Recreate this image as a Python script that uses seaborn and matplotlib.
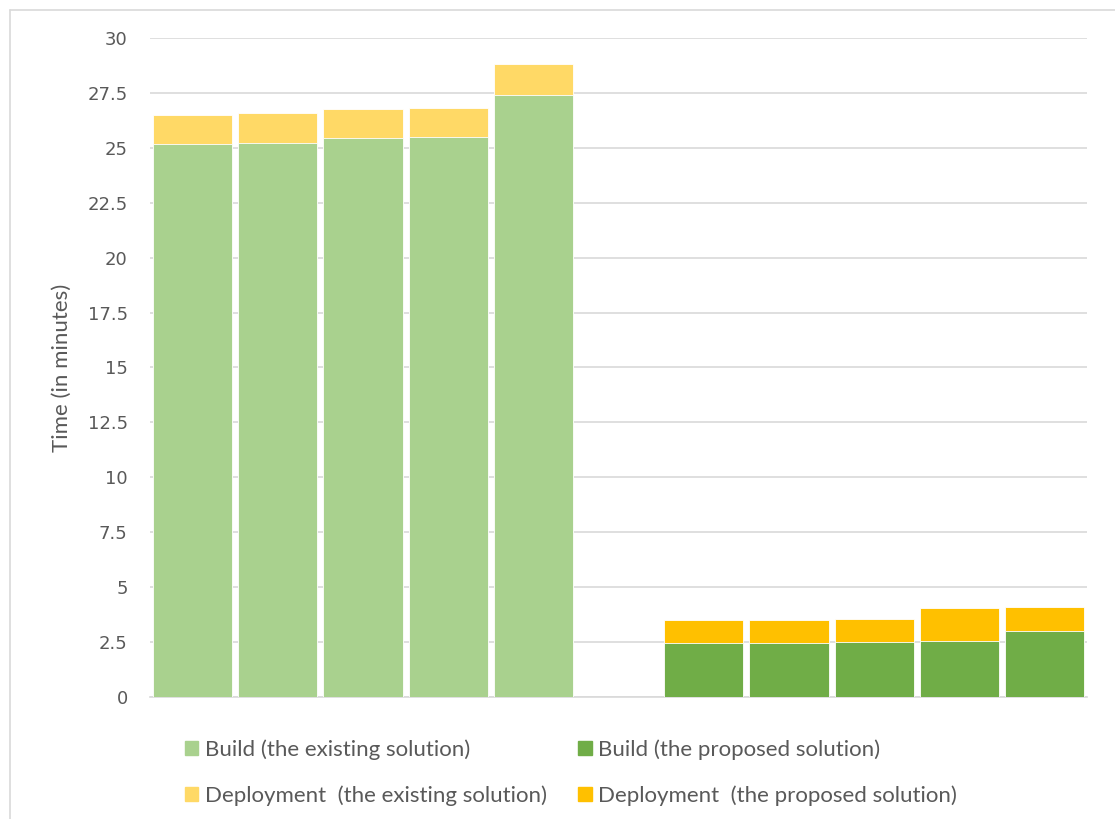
import matplotlib
matplotlib.use("Agg")
import matplotlib.pyplot as plt
from matplotlib.lines import Line2D
from matplotlib.patches import Patch
import numpy as np
import pandas as pd
import seaborn as sns

# Build and deployment times (minutes), five runs per solution
build_existing = [25.16, 25.20, 25.46, 25.49, 27.42]
deploy_existing = [1.33, 1.38, 1.30, 1.32, 1.38]
build_proposed = [2.47, 2.47, 2.50, 2.56, 3.02]
deploy_proposed = [1.03, 1.03, 1.04, 1.48, 1.06]

y_ticks = [0, 2.5, 5, 7.5, 10, 12.5, 15, 17.5, 20, 22.5, 25, 27.5, 30]
y_tick_labels = ["0", "2.5", "5", "7.5", "10", "12.5", "15", "17.5", "20", "22.5", "25", "27.5", "30"]
legend_labels = [
    "Build (the existing solution)",
    "Deployment  (the existing solution)",
    "Build (the proposed solution)",
    "Deployment  (the proposed solution)",
]

C_BUILD_EX = "#a9d18e"
C_DEP_EX = "#ffd966"
C_BUILD_PR = "#70ad47"
C_DEP_PR = "#ffc000"

# Eleven slots: five existing runs, one empty spacer, five proposed runs
slots_ex = list(range(5))
slots_pr = list(range(6, 11))
df = pd.DataFrame({
    "slot": slots_ex + slots_pr,
    "group": ["existing"] * 5 + ["proposed"] * 5,
    "build": build_existing + build_proposed,
    "deploy": deploy_existing + deploy_proposed,
})
df["total"] = df["build"] + df["deploy"]
order = list(range(11))

sns.set_theme(style="white")
fig = plt.figure(figsize=(11.15, 8.19), dpi=100)
ax = fig.add_axes([0.1345, 0.149, 0.8405, 0.8046])

# Stacked bars: full height in deployment colour, build portion over it
sns.barplot(data=df, x="slot", y="total", hue="group", order=order,
            palette={"existing": C_DEP_EX, "proposed": C_DEP_PR},
            dodge=False, width=0.93, saturation=1, legend=False, ax=ax,
            edgecolor="white", linewidth=0.6, zorder=2)
sns.barplot(data=df, x="slot", y="build", hue="group", order=order,
            palette={"existing": C_BUILD_EX, "proposed": C_BUILD_PR},
            dodge=False, width=0.93, saturation=1, legend=False, ax=ax,
            edgecolor="white", linewidth=0.6, zorder=3)

ax.set_xlim(-0.5, 10.5)
ax.set_ylim(0, 30)
ax.set_yticks(y_ticks)
ax.set_yticklabels(y_tick_labels)
for lbl in ax.get_yticklabels():
    lbl.set_fontfamily("DejaVu Sans")
    lbl.set_fontsize(13)
    lbl.set_color("#595959")
ax.tick_params(axis="y", length=0, pad=16)
ax.set_xticks([])
ax.set_xlabel("")
ax.set_ylabel("Time (in minutes)", fontsize=16, color="#595959",
              family="Lato", labelpad=11)
ax.yaxis.grid(True, color="#d9d9d9", linewidth=1.2, zorder=0)
ax.set_axisbelow(True)
for side in ["top", "right", "left"]:
    ax.spines[side].set_visible(False)
ax.spines["bottom"].set_color("#d9d9d9")
ax.spines["bottom"].set_linewidth(1.2)

handles = [Patch(color=C_BUILD_EX), Patch(color=C_DEP_EX),
           Patch(color=C_BUILD_PR), Patch(color=C_DEP_PR)]
fig.legend(handles, legend_labels, ncol=2, loc="upper left",
           bbox_to_anchor=(0.158, 0.108), frameon=False,
           prop={"family": "Lato", "size": 16}, labelcolor="#595959",
           handlelength=0.6, handleheight=0.6, handletextpad=0.3,
           columnspacing=1.4, labelspacing=1.15, borderaxespad=0)

# Thin frame along the top and left of the figure
fig.add_artist(Line2D([0.009, 1.0], [0.988, 0.988], color="#d9d9d9",
                      linewidth=1.2, transform=fig.transFigure))
fig.add_artist(Line2D([0.009, 0.009], [0.0, 0.988], color="#d9d9d9",
                      linewidth=1.2, transform=fig.transFigure))

fig.savefig("out.png", dpi=100, facecolor="white")
